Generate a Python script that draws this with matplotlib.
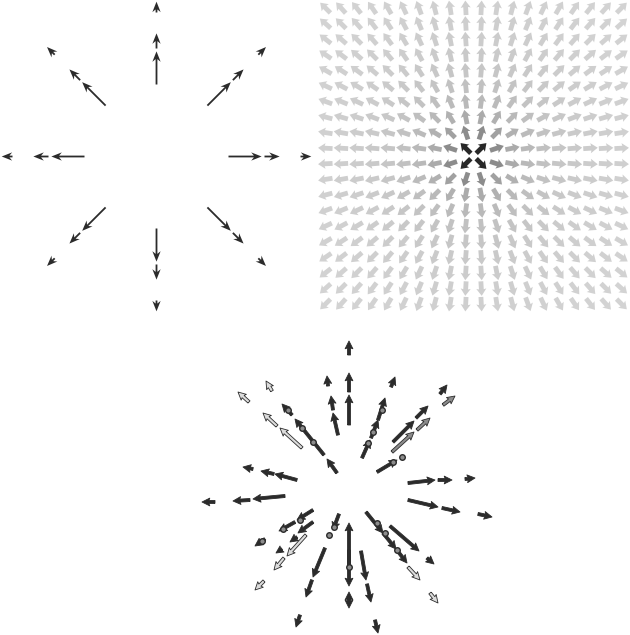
import numpy as np
import matplotlib
matplotlib.use("Agg")
import matplotlib.pyplot as plt

# --- panel 1: radial field at 8 directions, 3 radii ---
directions = [0, 45, 90, 135, 180, 225, 270, 315]  # degrees
radii = [1.0, 1.5, 2.0]
lengths = [0.46, 0.21, 0.15]  # arrow length at each radius

# --- panel 2: normalized radial field on a 20 x 20 grid ---
n_grid = 20

# --- panel 3: scattered radial arrows (x, y, u, v) ---
x3 = [1, 1, 1, -20, -15, -10, -76, -99, -56, -71, -46, -11, -24,
      -95, -74, -51, -133, -98, -63,
      43, 14, 23, 30, 92, 95, 68, 69, 45, 44, 29,
      60, 90, 117, 60, 94, 130,
      18, 35, 48, 60, 42, 79, 82,
      1, 1, 1, 1, 13, 19, 27,
      -35, -53, -35, -51, -83, -66, -42, -64, -84, -9, -23, -36, -48]
y3 = [130, 93, 60, 99, 75, 50, 94, 83, 70, 59, 37, 12, 30,
      16, 11, 5, -17, -15, -11,
      98, 27, 47, 65, 91, 80, 67, 55, 43, 33, 13,
      2, 5, 6, -15, -23, -29,
      -27, -48, -64, -82, -41, -73, -108,
      -82, -65, -115, -111, -66, -99, -135,
      -25, -37, -37, -52, -54, -64, -50, -73, -96, -29, -63, -95, -130]
u3 = [0, 0, 0, -1, -2, -5, -6, -11, -10, -14, -22, -10, -29,
      -10, -13, -22, -13, -17, -32,
      4, 8, 7, 7, 7, 12, 12, 13, 21, 22, 20,
      27, 14, 10, 30, 18, 14,
      17, 13, 11, 12, 29, 7, 8,
      0, 0, 0, 0, 5, 4, 3,
      -16, -16, -15, -7, -10, -6, -19, -10, -9, -6, -12, -6, -4]
v3 = [14, 19, 30, 10, 14, 22, 10, 10, 11, 13, 20, 14, 36,
      2, 3, 6, 0, -1, -3,
      10, 18, 18, 22, 9, 9, 12, 12, 21, 20, 12,
      3, 0, 1, -7, -4, -3,
      -21, -16, -14, -13, -25, -6, -10,
      44, -36, 8, -12, -29, -18, -13,
      -10, -9, -11, -5, -7, -4, -21, -12, -9, -16, -29, -17, -12]
shade3 = ['d', 'd', 'd', 'd', 'd', 'd', 'l', 'l', 'd', 'l', 'l', 'd', 'd',
          'd', 'd', 'd', 'd', 'd', 'd',
          'd', 'd', 'd', 'd', 'd', 'm', 'd', 'm', 'd', 'm', 'd',
          'd', 'd', 'd', 'd', 'd', 'd',
          'd', 'd', 'd', 'l', 'd', 'd', 'l',
          'd', 'd', 'd', 'd', 'd', 'd', 'd',
          'd', 'd', 'd', 'd', 'd', 'd', 'l', 'l', 'l', 'd', 'd', 'd', 'd']
# tiny (zero-length) vectors drawn as dots
dot_x = [-60, -46, -35, 20, 25, 34, 54, 45, 29, 37, 49, 1, -48, -65, -14, -19, -86]
dot_y = [75, 57, 43, 42, 53, 75, 28, 23, -38, -48, -65, -82, -35, -44, -42, -50, -56]

W, H = 630, 635
fig = plt.figure(figsize=(W / 100, H / 100), dpi=100)


def box(x0, y0, x1, y1):
    return [x0 / W, 1 - y1 / H, (x1 - x0) / W, (y1 - y0) / H]


dark = '#2b2b2b'

# panel 1
ax1 = fig.add_axes(box(0, 0, 313, 313))
th = np.deg2rad(np.repeat(directions, len(radii)))
rr = np.tile(radii, len(directions))
ll = np.tile(lengths, len(directions))
ax1.quiver(rr * np.cos(th), rr * np.sin(th), ll * np.cos(th), ll * np.sin(th),
           angles='xy', scale_units='xy', scale=1, pivot='tail', units='dots',
           width=1.8, headwidth=4.6, headlength=5.8, headaxislength=4.3,
           color=dark)
lim1 = 156.5 / 72
ax1.set_xlim(-lim1, lim1)
ax1.set_ylim(-lim1, lim1)
ax1.axis('off')

# panel 2
ax2 = fig.add_axes(box(317.5, 0, 629.5, 312))
g = np.arange(n_grid) - (n_grid - 1) / 2
X, Y = np.meshgrid(g, g)
R = np.hypot(X, Y)
ax2.quiver(X, Y, X / R, Y / R, 1 / R, cmap='gray_r', clim=(-0.27, 1.73),
           angles='xy', scale_units='xy', scale=1 / 0.93, pivot='mid', units='dots',
           width=4.8, headwidth=2.1, headlength=1.5, headaxislength=1.35)
ax2.set_xlim(-n_grid / 2, n_grid / 2)
ax2.set_ylim(-n_grid / 2, n_grid / 2)
ax2.axis('off')

# panel 3
ax3 = fig.add_axes(box(195, 330, 500, 635))
face = {'d': dark, 'm': '#8c8c8c', 'l': '#dcdcdc'}
ax3.quiver(x3, y3, u3, v3, color=[face[s] for s in shade3],
           edgecolor=dark, linewidth=0.6,
           angles='xy', scale_units='xy', scale=1, pivot='tail', units='dots',
           width=3.0, headwidth=2.6, headlength=2.6, headaxislength=2.3)
ax3.scatter(dot_x, dot_y, s=16, facecolor='#8c8c8c', edgecolor=dark,
            linewidth=1.0, zorder=3)
ax3.set_xlim(-153, 152)
ax3.set_ylim(-150, 155)
ax3.axis('off')

fig.savefig('out.png', dpi=100)
